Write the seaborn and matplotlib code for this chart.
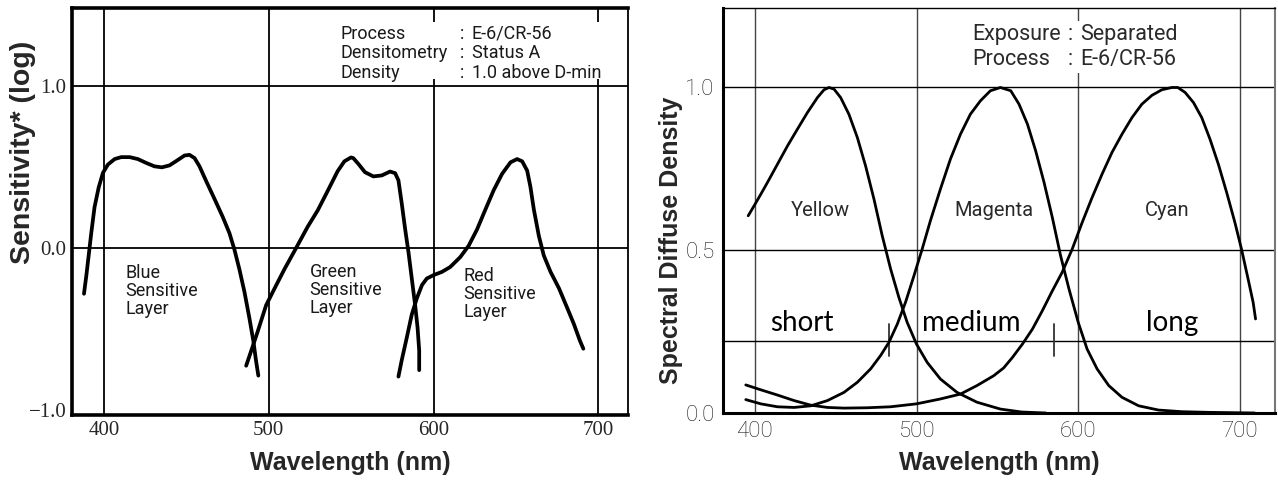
import numpy as np
import pandas as pd
import seaborn as sns
import matplotlib.pyplot as plt

# --- datos: sensibilidad espectral (izquierda) ---
blue_nm = [387.9, 389.3, 390.7, 392.3, 394.3, 396.8, 399.4, 402.4, 406.5, 410.5,
           415.6, 420.6, 425.7, 430.7, 435.2, 439.8, 444.8, 448.9, 451.9, 455.0,
           458.0, 462.0, 467.1, 472.1, 476.2, 479.2, 482.2, 485.3, 488.3, 490.7,
           492.3, 493.7]
blue_log = [-0.282, -0.172, -0.050, 0.091, 0.252, 0.373, 0.464, 0.515, 0.549, 0.561,
            0.561, 0.549, 0.525, 0.504, 0.498, 0.510, 0.543, 0.571, 0.575, 0.555,
            0.504, 0.414, 0.303, 0.192, 0.091, -0.010, -0.131, -0.272, -0.434, -0.575,
            -0.696, -0.787]

green_nm = [486.3, 489.3, 493.3, 498.4, 503.4, 509.5, 516.6, 523.6, 529.7, 535.8,
            541.8, 545.9, 549.9, 551.3, 554.4, 558.4, 563.5, 568.6, 573.6, 576.7,
            578.7, 580.7, 582.8, 584.8, 586.8, 588.8, 590.3, 591.3, 591.3]
green_log = [-0.726, -0.636, -0.515, -0.353, -0.252, -0.131, 0.0, 0.131, 0.232, 0.353,
             0.474, 0.535, 0.559, 0.555, 0.519, 0.468, 0.442, 0.448, 0.472, 0.462,
             0.418, 0.276, 0.115, -0.026, -0.188, -0.349, -0.490, -0.632, -0.753]

red_nm = [578.7, 580.7, 583.8, 586.8, 589.9, 593.0, 595.9, 600.0, 605.1, 610.1,
          616.2, 621.3, 626.4, 631.4, 636.5, 641.6, 646.7, 650.7, 653.8, 656.8,
          658.8, 660.9, 663.9, 666.9, 671.0, 676.1, 681.1, 685.2, 688.8, 690.9]
red_log = [-0.793, -0.692, -0.551, -0.410, -0.309, -0.228, -0.188, -0.167, -0.147, -0.117,
           -0.056, 0.014, 0.115, 0.236, 0.357, 0.458, 0.529, 0.549, 0.535, 0.478,
           0.377, 0.236, 0.075, -0.046, -0.147, -0.248, -0.369, -0.470, -0.571, -0.621]

layer_names = ["Blue\nSensitive\nLayer", "Green\nSensitive\nLayer", "Red\nSensitive\nLayer"]
layer_x = [413.0, 524.8, 618.3]
layer_y = [-0.100, -0.095, -0.118]

# --- densidad espectral de los colorantes (derecha) ---
yellow_nm = [395.9, 399.6, 403.7, 407.8, 414.0, 420.2, 426.3, 432.5, 438.7, 442.8,
             445.9, 449.0, 453.1, 458.2, 463.4, 468.5, 473.7, 478.8, 484.0, 489.1,
             494.2, 500.0, 506.6, 514.8, 525.1, 537.4, 551.9, 565.0, 580.0]
yellow_d = [0.604, 0.635, 0.670, 0.706, 0.762, 0.818, 0.869, 0.920, 0.966, 0.990,
            0.997, 0.992, 0.966, 0.915, 0.844, 0.757, 0.655, 0.543, 0.441, 0.354,
            0.278, 0.211, 0.155, 0.104, 0.063, 0.033, 0.012, 0.003, 0.0]

magenta_nm = [394.4, 403.7, 414.0, 424.3, 434.6, 444.9, 455.1, 463.4, 471.6, 477.8,
              482.9, 488.1, 493.2, 498.4, 503.5, 508.6, 514.8, 521.0, 527.2, 533.3,
              539.5, 545.7, 551.9, 558.3, 563.4, 568.6, 573.7, 578.9, 584.0, 589.1,
              594.3, 600.0, 605.5, 611.7, 618.9, 627.1, 637.4, 649.7, 664.1, 680.5,
              709.2]
magenta_d = [0.041, 0.028, 0.019, 0.017, 0.022, 0.038, 0.063, 0.094, 0.135, 0.176,
             0.216, 0.272, 0.339, 0.420, 0.502, 0.589, 0.686, 0.778, 0.854, 0.915,
             0.956, 0.987, 0.997, 0.987, 0.946, 0.885, 0.803, 0.706, 0.599, 0.482,
             0.380, 0.278, 0.196, 0.135, 0.084, 0.048, 0.022, 0.009, 0.004, 0.002,
             0.0]

cyan_nm = [394.4, 403.7, 414.0, 424.3, 434.6, 444.9, 455.1, 469.5, 483.9, 500.0,
           514.8, 527.2, 537.4, 547.7, 553.9, 559.3, 565.5, 571.7, 577.8, 584.0,
           590.1, 596.3, 602.5, 608.6, 614.8, 620.9, 627.1, 633.3, 639.4, 645.6,
           651.7, 657.9, 661.6, 666.1, 671.3, 676.4, 681.5, 686.7, 691.8, 696.9,
           701.0, 705.1, 708.2, 709.7]
cyan_d = [0.086, 0.071, 0.055, 0.038, 0.024, 0.017, 0.015, 0.016, 0.019, 0.028,
          0.043, 0.058, 0.084, 0.114, 0.138, 0.170, 0.211, 0.257, 0.313, 0.374,
          0.431, 0.502, 0.584, 0.660, 0.732, 0.798, 0.854, 0.905, 0.946, 0.973,
          0.990, 0.997, 0.997, 0.982, 0.951, 0.905, 0.839, 0.762, 0.676, 0.584,
          0.502, 0.410, 0.339, 0.288]

dye_names = ["Yellow", "Magenta", "Cyan"]
dye_x = [440.5, 547.6, 655.0]
band_names = ["short", "medium", "long"]
band_x = [429.0, 533.8, 658.4]
band_level = 0.219
band_edges = [482.9, 585.0]

sns.set_theme(style="white")
plt.rcParams['font.family'] = ['Roboto', 'DejaVu Sans']

fig = plt.figure(figsize=(12.78, 4.8), dpi=100)
ax1 = fig.add_axes([0.0563, 0.1354, 0.4351, 0.8476])
ax2 = fig.add_axes([0.5657, 0.1396, 0.4323, 0.8434])

# ---------------- panel izquierdo ----------------
for xs, ys in [(blue_nm, blue_log), (green_nm, green_log), (red_nm, red_log)]:
    df = pd.DataFrame({"nm": xs, "v": ys})
    sns.lineplot(data=df, x="nm", y="v", ax=ax1, sort=False, estimator=None,
                 color="black", lw=2.7, zorder=3)

ax1.set_xlim(380.6, 718)
ax1.set_ylim(-1.03, 1.48)
ax1.set_xticks([400, 500, 600, 700])
ax1.set_yticks([-1.0, 0.0, 1.0])
ax1.set_yticklabels(["\u22121.0", "0.0", "1.0"])
for x in [400, 500, 600, 700]:
    ax1.axvline(x, color="black", lw=1.3, zorder=1)
ax1.axhline(1.0, color="black", lw=1.3, zorder=1)
ax1.axhline(0.0, color="black", lw=1.3, zorder=1)
ax1.tick_params(length=0, labelsize=15, pad=4)
for lab in ax1.get_xticklabels() + ax1.get_yticklabels():
    lab.set_family("Liberation Serif")
for side, w in [("left", 2.6), ("bottom", 2.6), ("top", 2.6), ("right", 1.3)]:
    ax1.spines[side].set_color("black")
    ax1.spines[side].set_linewidth(w)
ax1.set_xlabel("Wavelength (nm)", fontsize=18, fontweight="bold",
               family="Liberation Sans", labelpad=8)
ax1.set_ylabel("Sensitivity* (log)", fontsize=20.5, fontweight="bold",
               family="Liberation Sans")
ax1.yaxis.set_label_coords(-0.064, 0.646)

for name, x, y in zip(layer_names, layer_x, layer_y):
    ax1.text(x, y, name, fontsize=13, va="top", ha="left", linespacing=1.0,
             color="#1a1a1a")

info_left = ["Process", "Densitometry", "Density"]
info_left_val = ["E-6/CR-56", "Status A", "1.0 above D-min"]
ax1.add_patch(plt.Rectangle((541, 1.04), 176, 0.355, facecolor="white",
                            edgecolor="none", zorder=2))
for i, (k, v) in enumerate(zip(info_left, info_left_val)):
    yy = 1.323 - i * 0.12
    ax1.text(543.3, yy, k, fontsize=13, va="center", ha="left", zorder=4,
             color="#1a1a1a")
    ax1.text(617.5, yy, ":", fontsize=13, va="center", ha="center", zorder=4,
             color="#1a1a1a")
    ax1.text(623.3, yy, v, fontsize=13, va="center", ha="left", zorder=4,
             color="#1a1a1a")

# ---------------- panel derecho ----------------
for xs, ys in [(yellow_nm, yellow_d), (magenta_nm, magenta_d), (cyan_nm, cyan_d)]:
    df = pd.DataFrame({"nm": xs, "v": ys})
    sns.lineplot(data=df, x="nm", y="v", ax=ax2, sort=False, estimator=None,
                 color="black", lw=2.0, zorder=3)

ax2.set_xlim(380.3, 722)
ax2.set_ylim(0, 1.24)
ax2.set_xticks([400, 500, 600, 700])
ax2.set_yticks([0.0, 0.5, 1.0])
ax2.set_yticklabels(["0.0", "0.5", "1.0"])
for x in [400, 500, 600, 700]:
    ax2.axvline(x, color="#444444", lw=1.0, zorder=1)
for y in [0.5, 1.0, band_level]:
    ax2.axhline(y, color="black", lw=1.0, zorder=1)
for x in band_edges:
    ax2.plot([x, x], [0.175, 0.272], color="#333333", lw=1.3, zorder=2)
ax2.tick_params(length=0, labelsize=16, pad=6)
for lab in ax2.get_xticklabels() + ax2.get_yticklabels():
    lab.set_family("Roboto")
    lab.set_fontweight("light")
    lab.set_color("#1a1a1a")
for side, w in [("left", 2.2), ("bottom", 2.2), ("top", 1.0), ("right", 1.5)]:
    ax2.spines[side].set_color("black")
    ax2.spines[side].set_linewidth(w)
ax2.spines["right"].set_color("#777777")
ax2.set_xlabel("Wavelength (nm)", fontsize=18, fontweight="bold",
               family="Liberation Sans", labelpad=6)
ax2.set_ylabel("Spectral Diffuse Density", fontsize=18, fontweight="bold",
               family="Liberation Sans")
ax2.yaxis.set_label_coords(-0.072, 0.427)

for name, x in zip(dye_names, dye_x):
    ax2.text(x, 0.619, name, fontsize=14.5, ha="center", va="center",
             family="Roboto", color="#2a2a2a")
for name, x in zip(band_names, band_x):
    ax2.text(x, 0.251, name, fontsize=20, ha="center", va="baseline",
             family="Lato", color="black")

ax2.add_patch(plt.Rectangle((533, 1.04), 70, 0.16, facecolor="white",
                            edgecolor="none", zorder=2))
info_right = ["Exposure", "Process"]
info_right_val = ["Separated", "E-6/CR-56"]
for i, (k, v) in enumerate(zip(info_right, info_right_val)):
    yy = 1.16 - i * 0.077
    ax2.text(534.5, yy, k, fontsize=15.5, va="center", ha="left",
             family="Roboto", color="#2a2a2a", zorder=4)
    ax2.text(595.0, yy, ":", fontsize=15.5, va="center", ha="center",
             family="Roboto", color="#2a2a2a", zorder=4)
    ax2.text(601.2, yy, v, fontsize=15.5, va="center", ha="left",
             family="Roboto", color="#2a2a2a", zorder=4)

fig.savefig("out.png", dpi=100)
